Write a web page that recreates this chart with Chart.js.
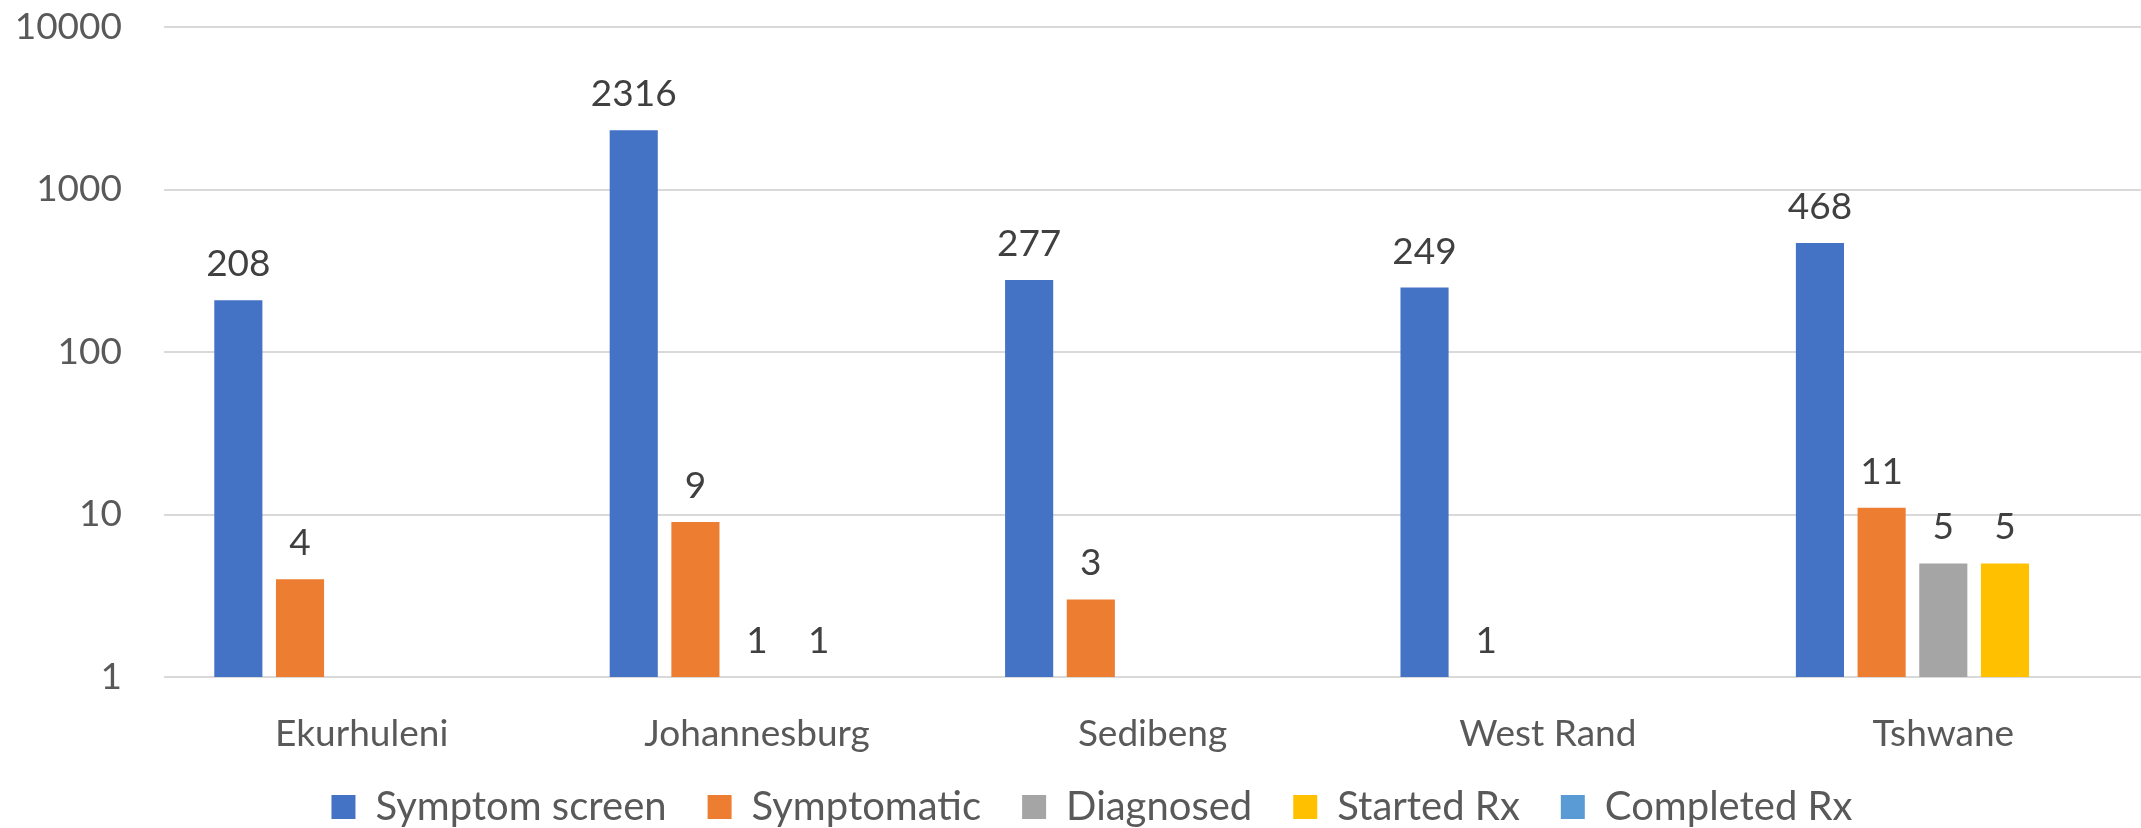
<!DOCTYPE html>
<html>
<head>
<meta charset="utf-8">
<script src="https://cdn.jsdelivr.net/npm/chart.js@4.4.1/dist/chart.umd.min.js"></script>
<style>
  html, body { margin: 0; padding: 0; background: #ffffff; }
  #wrap { width: 2141px; height: 828px; position: relative; }
</style>
</head>
<body>
<div id="wrap"><canvas id="c"></canvas></div>
<script>
const categories = ['Ekurhuleni', 'Johannesburg', 'Sedibeng', 'West Rand', 'Tshwane'];
const seriesNames = ['Symptom screen', 'Symptomatic', 'Diagnosed', 'Started Rx', 'Completed Rx'];
const symptomScreen = [208, 2316, 277, 249, 468];
const symptomatic = [4, 9, 3, 1, 11];
const diagnosed = [null, 1, null, null, 5];
const startedRx = [null, 1, null, null, 5];
const completedRx = [null, null, null, null, null];
const yTicks = [1, 10, 100, 1000, 10000];

const colors = ['#4472C4', '#ED7D31', '#A5A5A5', '#FFC000', '#5B9BD5'];
const seriesValues = [symptomScreen, symptomatic, diagnosed, startedRx, completedRx];
const FONT = 'Lato, "Open Sans", sans-serif';
const FS = 37;

const dataLabels = {
  id: 'dataLabels',
  afterDatasetsDraw(chart) {
    const ctx = chart.ctx;
    ctx.save();
    ctx.font = FS + 'px ' + FONT;
    ctx.fillStyle = '#404040';
    ctx.textAlign = 'center';
    ctx.textBaseline = 'middle';
    chart.data.datasets.forEach((ds, di) => {
      const meta = chart.getDatasetMeta(di);
      meta.data.forEach((bar, i) => {
        const v = ds.data[i];
        if (v === null || v === undefined) return;
        ctx.fillText(String(v), bar.x, bar.y - 36);
      });
    });
    ctx.restore();
  }
};

// move the legend row a little (its row padding is also used as vertical padding)
const legendShift = {
  id: 'legendShift',
  afterLayout(chart) {
    const lg = chart.legend;
    if (lg) { lg.top -= 12; lg.bottom -= 12; lg.left += 18; lg.right += 18; }
  }
};

new Chart(document.getElementById('c'), {
  type: 'bar',
  data: {
    labels: categories,
    datasets: seriesNames.map((n, k) => ({
      label: n,
      data: seriesValues[k],
      backgroundColor: colors[k],
      borderWidth: 0,
      categoryPercentage: 0.78,
      barPercentage: 0.78
    }))
  },
  options: {
    responsive: true,
    maintainAspectRatio: false,
    animation: false,
    layout: { padding: { top: 27, right: -7, left: 0, bottom: -21 } },
    plugins: {
      legend: {
        position: 'bottom',
        labels: {
          font: { family: FONT, size: 40 },
          color: '#595959',
          boxWidth: 24,
          boxHeight: 24,
          padding: 41
        }
      },
      tooltip: { enabled: false }
    },
    scales: {
      x: {
        grid: { display: false, drawTicks: false },
        border: { display: false },
        ticks: { font: { family: FONT, size: FS }, color: '#595959', padding: 35 },
        afterFit(scale) { scale.height = 81; }
      },
      y: {
        type: 'logarithmic',
        min: 1,
        max: 10000,
        grid: { color: '#D9D9D9', lineWidth: 2, drawTicks: false },
        border: { display: false },
        ticks: {
          font: { family: FONT, size: FS },
          color: '#595959',
          padding: 42,
          callback: (v) => String(v)
        },
        afterBuildTicks(scale) { scale.ticks = yTicks.map(v => ({ value: v })); },
        afterFit(scale) { scale.width = 164; scale.paddingTop = 0; scale.paddingBottom = 0; }
      }
    }
  },
  plugins: [dataLabels, legendShift]
});
</script>
</body>
</html>
